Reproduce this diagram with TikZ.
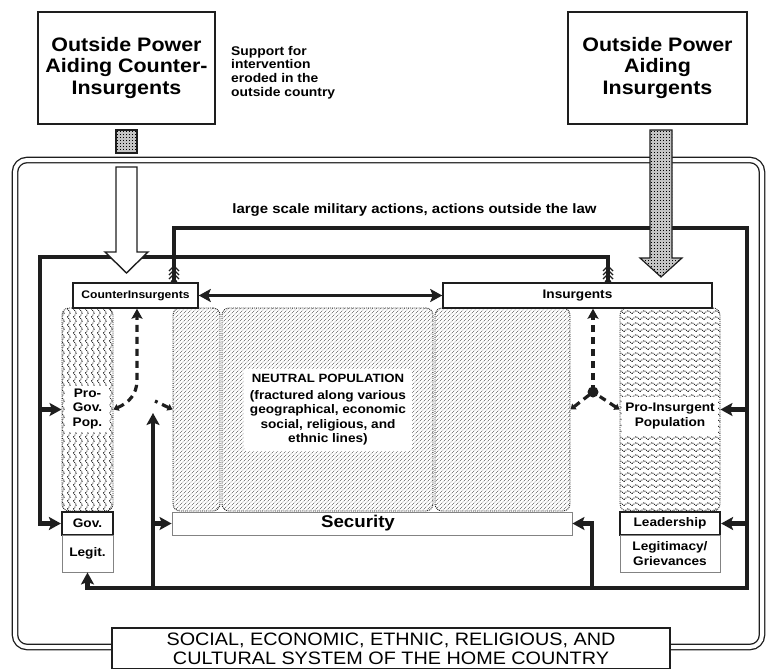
\documentclass[tikz,border=0pt]{standalone}
\usepackage{fontspec}
\setmainfont{Liberation Sans}[FakeStretch=1.1]
\usepackage{xcolor}
\usepackage{tikz}
\usetikzlibrary{arrows.meta, patterns, calc}
\definecolor{inkColor}{HTML}{1E1E1E}
\definecolor{hatchColor}{HTML}{555555}

\pgfdeclarepatternformonly{zigzag h}{\pgfqpoint{-1pt}{-1pt}}{\pgfqpoint{9pt}{7pt}}{\pgfqpoint{8pt}{6pt}}{
    \pgfsetlinewidth{0.8pt}
    \pgfpathmoveto{\pgfqpoint{0pt}{1.5pt}}
    \pgfpathlineto{\pgfqpoint{4pt}{4.5pt}}
    \pgfpathlineto{\pgfqpoint{8pt}{1.5pt}}
    \pgfusepath{stroke}}
\pgfdeclarepatternformonly{zigzag v}{\pgfqpoint{-1pt}{-1pt}}{\pgfqpoint{7pt}{9pt}}{\pgfqpoint{6pt}{8pt}}{
    \pgfsetlinewidth{0.8pt}
    \pgfpathmoveto{\pgfqpoint{1.5pt}{0pt}}
    \pgfpathlineto{\pgfqpoint{4.5pt}{4pt}}
    \pgfpathlineto{\pgfqpoint{1.5pt}{8pt}}
    \pgfusepath{stroke}}
\pgfdeclarepatternformonly{fine hatch}{\pgfqpoint{-0.5pt}{-0.5pt}}{\pgfqpoint{4.5pt}{4.5pt}}{\pgfqpoint{4pt}{4pt}}{
    \pgfsetlinewidth{0.7pt}
    \pgfpathmoveto{\pgfqpoint{0pt}{0pt}}
    \pgfpathlineto{\pgfqpoint{4pt}{4pt}}
    \pgfusepath{stroke}}
\pgfdeclarepatternformonly{stipple}{\pgfqpoint{-1pt}{-1pt}}{\pgfqpoint{4pt}{4pt}}{\pgfqpoint{3pt}{3pt}}{
    \pgfpathcircle{\pgfqpoint{0.5pt}{0.5pt}}{0.8pt}
    \pgfpathcircle{\pgfqpoint{2pt}{2pt}}{0.65pt}
    \pgfusepath{fill}}

\begin{document}
\begin{tikzpicture}[x=1pt, y=-1pt,
    >={Stealth[length=12pt,width=13pt,inset=2.5pt]},
    bigbox/.style={draw=inkColor, line width=1.8pt, fill=white, inner sep=0pt, align=center,
        font=\bfseries\fontsize{19.5}{21.5}\selectfont},
    note/.style={inner sep=0pt, align=left, font=\bfseries\fontsize{12.6}{13.6}\selectfont},
    tag/.style={draw=inkColor, line width=1.5pt, fill=white, inner sep=0pt, align=center,
        font=\bfseries\fontsize{12.4}{15}\selectfont},
    base/.style={draw=inkColor!55, line width=0.9pt, fill=white, inner sep=0pt, align=center,
        font=\bfseries\fontsize{12.4}{15}\selectfont},
    pop/.style={draw=inkColor, densely dotted, line width=0.9pt, rounded corners=7pt,
        inner sep=0pt, minimum height=203pt, preaction={fill=white}},
    poplabel/.style={fill=white, rounded corners=4pt, inner sep=2pt, align=center,
        font=\bfseries\fontsize{12.4}{14.5}\selectfont},
    flow/.style={draw=inkColor, line width=4.6pt},
    dashflow/.style={draw=inkColor, line width=3.2pt, dash pattern=on 7pt off 5pt},
    chevron/.style={draw=inkColor, line width=1.4pt},
]
    \useasboundingbox (0,0) rectangle (766,669);

    % home country frame
    \draw[draw=inkColor, double=white, double distance=4pt, line width=1.3pt, rounded corners=12pt]
        (15,160) rectangle (762,647);

    % outside powers
    \node[bigbox, minimum width=177pt, minimum height=112pt] (helpci) at (126.5,68)
        {Outside Power\\Aiding Counter-\\Insurgents};
    \node[bigbox, minimum width=179pt, minimum height=112pt] (helpins) at (657.5,68)
        {Outside Power\\Aiding\\Insurgents};
    \node[note, anchor=west] (erode) at (231,72.5)
        {Support for\\intervention\\eroded in the\\outside country};
    \node[note, font=\bfseries\fontsize{13.6}{14}\selectfont] (milact) at (414.5,210)
        {large scale military actions, actions outside the law};

    % populations
    \node[pop, minimum width=51pt, pattern=zigzag v] (progov) at (87.5,409.5) {};
    \node[pop, minimum width=47pt, pattern=fine hatch, pattern color=hatchColor] (neutralL) at (196.5,409.5) {};
    \node[pop, minimum width=211pt, pattern=fine hatch, pattern color=hatchColor] (neutral) at (327.5,409.5) {};
    \node[pop, minimum width=135pt, pattern=fine hatch, pattern color=hatchColor] (neutralR) at (502.5,409.5) {};
    \node[pop, minimum width=100pt, pattern=zigzag h] (proins) at (670,409.5) {};

    \node[poplabel, minimum width=44pt, inner sep=3pt] (progovlab) at (87.5,409) {Pro-\\Gov.\\Pop.};
    \node[poplabel, inner sep=6pt] (neutrallab) at (328,410)
        {\fontsize{12}{14.5}\selectfont NEUTRAL POPULATION\\[2pt]
         (fractured along various\\geographical, economic\\social, religious, and\\ethnic lines)};
    \node[poplabel, minimum width=96pt, minimum height=38pt, rounded corners=0pt, inner sep=0pt]
        (proinslab) at (670,416) {Pro-Insurgent\\Population};

    % actors
    \node[tag, minimum width=125pt, minimum height=25pt, font=\bfseries\fontsize{11}{12}\selectfont]
        (ci) at (135.5,295.5) {CounterInsurgents};
    \node[tag, minimum width=269pt, minimum height=25pt] (ins) at (577.5,295.5) {Insurgents};
    \node[tag, line width=2.2pt, minimum width=51pt, minimum height=23pt] (gov) at (87.5,523.5) {Gov.};
    \node[base, minimum width=51pt, minimum height=37pt] (legit) at (87.5,553.5) {Legit.};
    \node[tag, line width=2.2pt, minimum width=100pt, minimum height=23pt] (lead) at (670,523.5) {Leadership};
    \node[base, minimum width=100pt, minimum height=37pt] (grief) at (670,553.5) {Legitimacy/\\Grievances};
    \node[base, minimum width=400pt, minimum height=23pt, font=\bfseries\fontsize{17}{17}\selectfont]
        (security) at (372,523.5) {\hspace*{-28pt}Security};
    \node[base, draw=inkColor, line width=1.3pt, minimum width=558pt, minimum height=41pt,
        font=\fontsize{18}{19}\selectfont] (home) at (391,648.5)
        {SOCIAL, ECONOMIC, ETHNIC, RELIGIOUS, AND\\CULTURAL SYSTEM OF THE HOME COUNTRY};

    % routing points
    \coordinate (ciup) at (174,228);
    \coordinate (rightrail) at (747,228);
    \coordinate (bottomrail) at (747,588);
    \coordinate (insup) at (608,257);
    \coordinate (leftrail) at (40,257);
    \coordinate (secup) at (153,413);
    \coordinate (secright) at (592,588);

    % counterinsurgent actions
    \draw[flow, ->] (ci.north -| ciup) -- (ciup) -- (rightrail) -- (bottomrail) -| (legit.south);
    \draw[flow, ->] (rightrail |- proins.east) -- (proins.east);
    \draw[flow, ->] (rightrail |- lead.east) -- (lead.east);
    \draw[flow, ->] (bottomrail -| secup) -- (secup);
    \draw[flow, ->] (secup |- security.west) -- (security.west);
    \draw[flow, ->] (secright) |- (security.east);

    % insurgent actions
    \draw[flow, ->] (ins.north -| insup) -- (insup) -- (leftrail) |- (gov.west);
    \draw[flow, ->] (leftrail |- progov.west) -- (progov.west);

    \draw[flow, line width=3.4pt, <->] (ci.east) -- (ins.west);

    % many-action marks
    \foreach \cx in {174,608} {
        \foreach \k in {0,1,2}
            \draw[chevron] (\cx-5,271+4*\k) -- (\cx,266+4*\k) -- (\cx+5,271+4*\k);
        \draw[chevron] (\cx-3,283) arc[start angle=180, end angle=360, radius=3];
    }

    % support flowing to the actors
    \coordinate (cibend) at (137,380);
    \coordinate (neutralgap) at (155,401);
    \coordinate (insjoin) at (593,392);
    \draw[dashflow, {Triangle[length=5pt,width=7pt]}-{Stealth[length=10pt,width=11pt,inset=2pt]}]
        (progov.east) .. controls (128,403) and (137,395) .. (cibend) -- (ci.south -| cibend);
    \draw[dashflow, {Triangle[length=5pt,width=7pt]}-] (neutralL.west) -- (neutralgap);
    \draw[dashflow, {Triangle[length=5pt,width=7pt]}-] (neutralR.east) -- (insjoin);
    \draw[dashflow, {Triangle[length=5pt,width=7pt]}-] (proins.west) -- (insjoin);
    \draw[dashflow, -{Stealth[length=10pt,width=11pt,inset=2pt]}] (insjoin) -- (ins.south -| insjoin);
    \fill[inkColor] (insjoin) circle (5.5pt);

    % outside aid
    \node[draw=inkColor, line width=1.2pt, minimum width=21pt, minimum height=23pt, inner sep=0pt,
        preaction={fill=white}, pattern=stipple] (aidsq) at (126.5,141.5) {};
    \draw[draw=inkColor, line width=1.4pt, fill=white]
        (116,167) -- (137,167) -- (137,252) -- (148,252) -- (126.5,273) -- (105,252) -- (116,252) -- cycle;
    \draw[draw=inkColor, line width=1.2pt, preaction={fill=white}, pattern=stipple]
        (650,130) -- (672,130) -- (672,258) -- (682,258) -- (661,277) -- (640,258) -- (650,258) -- cycle;
\end{tikzpicture}
\end{document}
